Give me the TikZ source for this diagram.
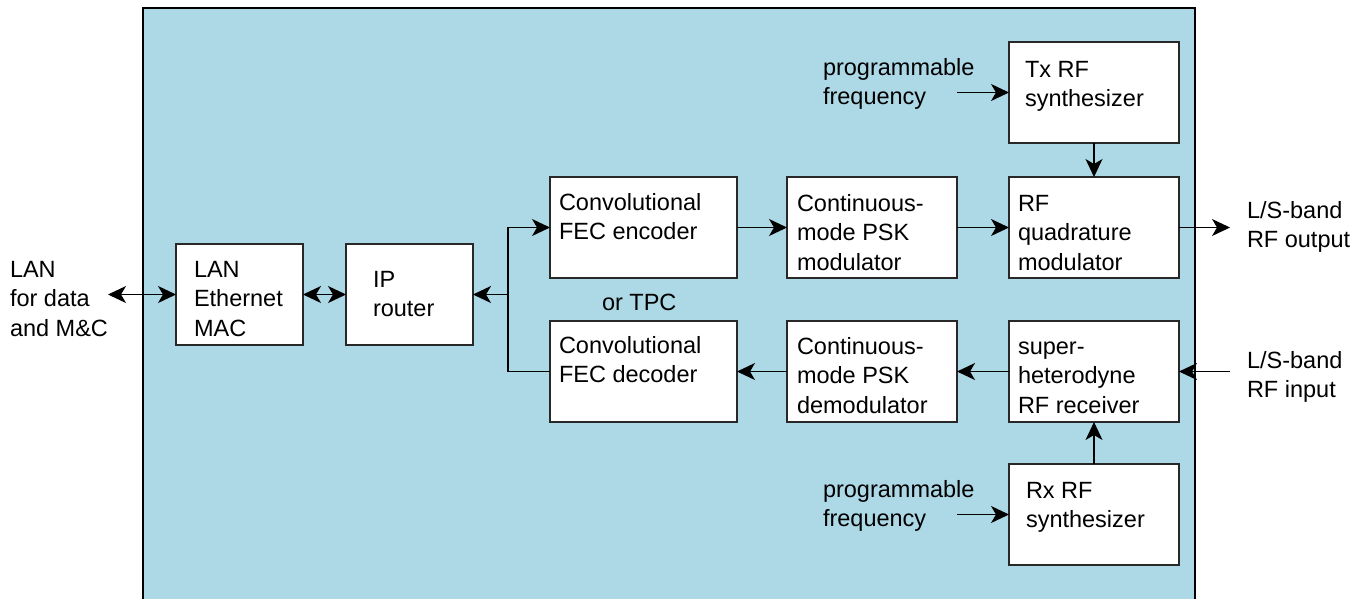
\documentclass[tikz,border=0pt]{standalone}
\usepackage{fontspec}
\setmainfont{Liberation Sans}
\usetikzlibrary{arrows.meta}
\definecolor{bgblue}{RGB}{173,216,230}
\definecolor{edge}{RGB}{40,40,40}
\newcommand{\mlines}[1]{\begin{tabular}[t]{@{}l@{}}#1\end{tabular}}
\begin{document}
\begin{tikzpicture}[x=1pt,y=-1pt,
  every node/.style={font=\fontsize{23.5}{29.5}\selectfont},
  box/.style={draw=edge,fill=white,line width=1.2pt,inner sep=0pt,outer sep=0pt,minimum height=101pt},
  lbl/.style={anchor=base west,inner sep=0pt,outer sep=0pt},
  conn/.style={line width=1.2pt,draw=black},
  arr/.style={conn,-{Stealth[length=18pt,width=17pt,inset=5pt]}},
  dbl/.style={conn,{Stealth[length=18pt,width=17pt,inset=5pt]}-{Stealth[length=18pt,width=17pt,inset=5pt]}}]
\useasboundingbox (0,0) rectangle (1372,598);
% background panel
\fill[bgblue] (143,8) rectangle (1195,600);
\draw[line width=1.2pt] (143,600) -- (143,8) -- (1195,8) -- (1195,600);
% boxes
\node[box,minimum width=127pt] (mac) at (239.5,294.5) {};
\node[box,minimum width=127pt] (ip) at (409.5,294.5) {};
\node[box,minimum width=187pt] (enc) at (643.5,227.5) {};
\node[box,minimum width=187pt] (dec) at (643.5,371.5) {};
\node[box,minimum width=170pt] (mod) at (872,227.5) {};
\node[box,minimum width=170pt] (demod) at (872,371.5) {};
\node[box,minimum width=170pt] (rfmod) at (1094,227.5) {};
\node[box,minimum width=170pt] (rcv) at (1094,371.5) {};
\node[box,minimum width=170pt] (txs) at (1094,92.5) {};
\node[box,minimum width=170pt] (rxs) at (1094,514.5) {};
% labels
\node[lbl] (tlan) at (10,277) {\mlines{LAN\\for data\\and M\&C}};
\node[lbl] (tmac) at (194,277) {\mlines{LAN\\Ethernet\\MAC}};
\node[lbl] (tip) at (373,287) {\mlines{IP\\router}};
\node[lbl] (tenc) at (559,210) {\mlines{Convolutional\\FEC encoder}};
\node[lbl] (ttpc) at (602,310) {or TPC};
\node[lbl] (tdec) at (559,353) {\mlines{Convolutional\\FEC decoder}};
\node[lbl] (tmod) at (797,211) {\mlines{Continuous-\\mode PSK\\modulator}};
\node[lbl] (tdemod) at (797,354) {\mlines{Continuous-\\mode PSK\\demodulator}};
\node[lbl] (trfmod) at (1018,211) {\mlines{RF\\quadrature\\modulator}};
\node[lbl] (trcv) at (1018,354) {\mlines{super-\\heterodyne\\RF receiver}};
\node[lbl] (ttxs) at (1025,77) {\mlines{Tx RF\\synthesizer}};
\node[lbl] (trxs) at (1026,498) {\mlines{Rx RF\\synthesizer}};
\node[lbl] (tpt) at (823,75) {\mlines{programmable\\frequency}};
\node[lbl] (tpb) at (823,497) {\mlines{programmable\\frequency}};
\node[lbl] (tout) at (1247,218) {\mlines{L/S-band\\RF output}};
\node[lbl] (tin) at (1247,368) {\mlines{L/S-band\\RF input}};
% coordinates for free ends
\coordinate (lanend) at (108,294.5);
\coordinate (j) at (508,294.5);
\coordinate (outend) at (1230,227.5);
\coordinate (inend) at (1230,371.5);
\coordinate (pft) at (957,92.5);
\coordinate (pfb) at (957,514.5);
% connectors
\draw[dbl] (lanend) -- (mac.west);
\draw[dbl] (mac.east) -- (ip.west);
\draw[arr] (j) -- (ip.east);
\draw[arr] (dec.west) -| (j) |- (enc.west);
\draw[arr] (enc.east) -- (mod.west);
\draw[arr] (mod.east) -- (rfmod.west);
\draw[arr] (rfmod.east) -- (outend);
\draw[arr] (inend) -- (rcv.east);
\draw[arr] (rcv.west) -- (demod.east);
\draw[arr] (demod.west) -- (dec.east);
\draw[arr] (txs.south) -- (rfmod.north);
\draw[arr] (rxs.north) -- (rcv.south);
\draw[arr] (pft) -- (txs.west);
\draw[arr] (pfb) -- (rxs.west);
\end{tikzpicture}
\end{document}
